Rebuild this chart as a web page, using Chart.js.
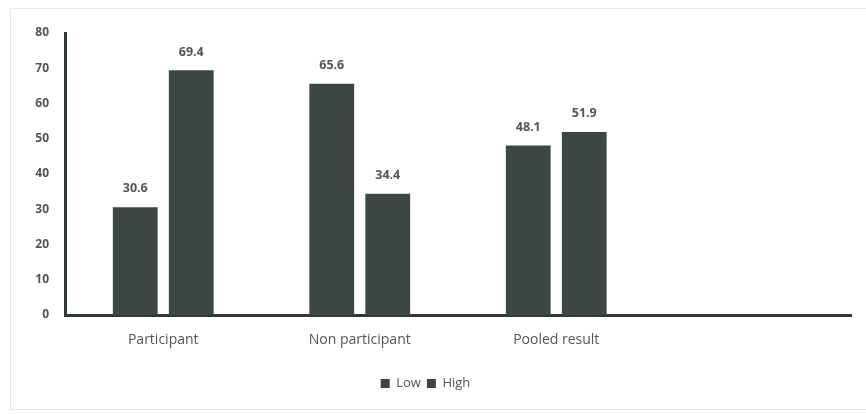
<!DOCTYPE html>
<html>
<head>
<meta charset="utf-8">
<script src="https://cdn.jsdelivr.net/npm/chart.js@4.4.1/dist/chart.umd.min.js"></script>
<style>
  html, body { margin: 0; padding: 0; background: #ffffff; }
  #wrap { position: relative; width: 866px; height: 414px; }
  #frame { position: absolute; left: 10px; top: 8px; width: 880px; height: 402px;
           border: 1px solid #e4e9e8; box-sizing: border-box; pointer-events: none; }
  canvas { position: absolute; left: 0; top: 0; }
</style>
</head>
<body>
<div id="wrap">
  <canvas id="c" width="866" height="414"></canvas>
  <div id="frame"></div>
</div>
<script>
// Share of respondents in each group, by level
const categories = ['Participant', 'Non participant', 'Pooled result', ''];
const lowValues  = [30.6, 65.6, 48.1, null];
const highValues = [69.4, 34.4, 51.9, null];
const yTicks = [0, 10, 20, 30, 40, 50, 60, 70, 80];

const barColor = '#3b4842';
const axisColor = '#2e3a35';
const textColor = '#4f5653';
const fontFamily = '"Open Sans", Lato, sans-serif';

// Writes each bar's value just above it
const valueLabels = {
  id: 'valueLabels',
  afterDatasetsDraw(chart) {
    const ctx = chart.ctx;
    ctx.save();
    ctx.font = 'bold 12.5px ' + fontFamily;
    ctx.fillStyle = textColor;
    ctx.textAlign = 'center';
    ctx.textBaseline = 'bottom';
    chart.data.datasets.forEach((ds, i) => {
      chart.getDatasetMeta(i).data.forEach((bar, j) => {
        const v = ds.data[j];
        if (v === null || v === undefined) return;
        ctx.fillText(v.toFixed(1), bar.x, bar.y - 12);
      });
    });
    ctx.restore();
  }
};

new Chart(document.getElementById('c'), {
  type: 'bar',
  data: {
    labels: categories,
    datasets: [
      { label: 'Low', data: lowValues, backgroundColor: barColor },
      { label: 'High', data: highValues, backgroundColor: barColor }
    ]
  },
  options: {
    responsive: false,
    animation: false,
    devicePixelRatio: 1,
    layout: { padding: { left: 0, right: 15, top: 33, bottom: 14 } },
    datasets: {
      bar: { categoryPercentage: 0.57, barPercentage: 0.8 }
    },
    scales: {
      x: {
        grid: { display: false, drawTicks: false },
        border: { display: true, color: axisColor, width: 3 },
        ticks: { color: textColor, font: { family: fontFamily, size: 14 }, padding: 17, maxRotation: 0 },
        afterFit(s) { s.height = 56; }
      },
      y: {
        min: 0, max: 80,
        afterBuildTicks(s) { s.ticks = yTicks.map(v => ({ value: v })); },
        grid: { display: false, drawTicks: false },
        border: { display: true, color: axisColor, width: 3 },
        ticks: { color: textColor, font: { family: fontFamily, size: 12, weight: 'bold' }, padding: 16 },
        afterFit(s) { s.width = 65; }
      }
    },
    plugins: {
      legend: {
        position: 'bottom',
        labels: {
          color: textColor,
          font: { family: fontFamily, size: 13 },
          boxWidth: 9, boxHeight: 9, padding: 6
        }
      },
      tooltip: { enabled: false }
    }
  },
  plugins: [valueLabels]
});
</script>
</body>
</html>
